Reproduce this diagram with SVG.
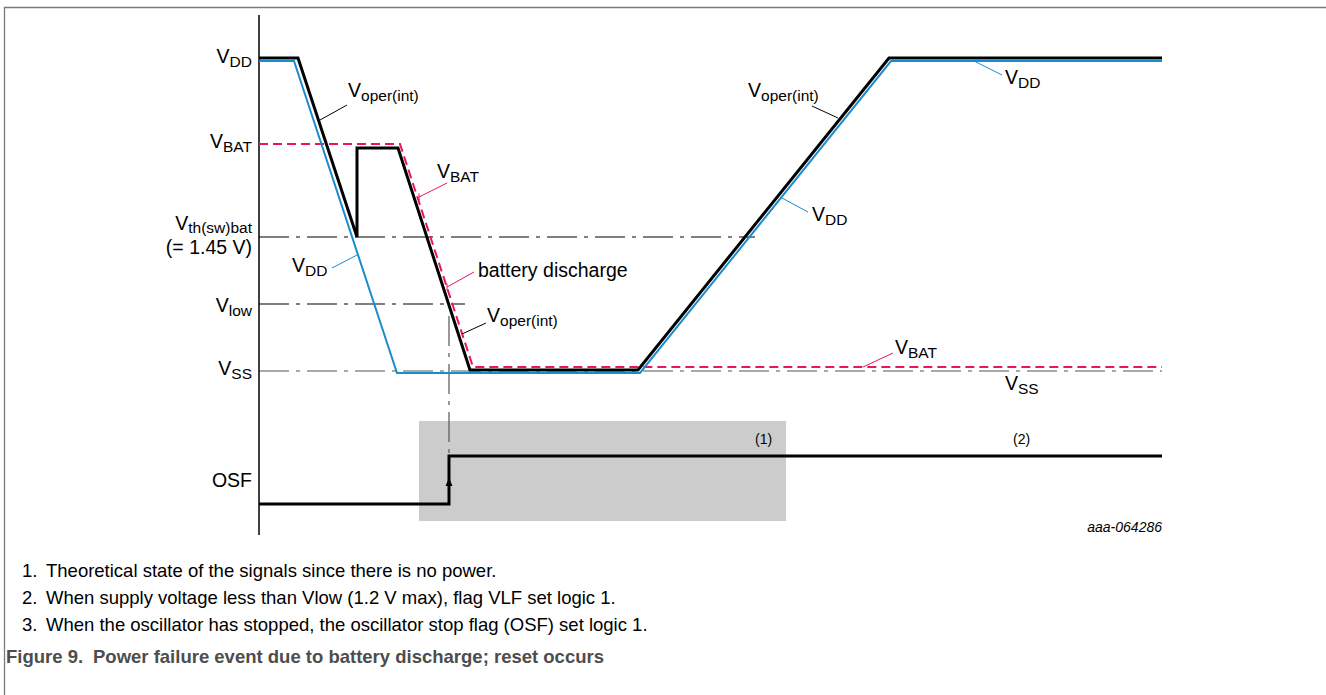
<svg xmlns="http://www.w3.org/2000/svg" width="1326" height="695" viewBox="0 0 1326 695">
  <style>
    text { font-family: "Liberation Sans", Arial, sans-serif; fill: #000; }
    .lbl { font-size: 19.5px; }
    .sub { font-size: 15.5px; }
    .note { font-size: 18.5px; fill: #000; }
    .cap { font-size: 18.5px; font-weight: bold; fill: #4d4d4d; }
    .small { font-size: 14px; }
    .code { font-size: 14px; font-style: italic; }
    .frame { stroke: #7a7a7a; stroke-width: 1.3; fill: none; }
    .axis { stroke: #000; stroke-width: 1.5; fill: none; }
    .vdd { stroke: #1b8bd0; stroke-width: 2; fill: none; stroke-linejoin: miter; }
    .oper { stroke: #000; stroke-width: 3; fill: none; stroke-linejoin: miter; }
    .vbat { stroke: #e8175d; stroke-width: 2; fill: none; stroke-dasharray: 9 5; }
    .ref { stroke: #000; stroke-width: 1.2; fill: none; stroke-dasharray: 30 7 4 7; }
    .refg { stroke: #555; stroke-width: 1.2; fill: none; stroke-dasharray: 30 7 4 7; }
    .lead { stroke: #000; stroke-width: 1; fill: none; }
    .leadb { stroke: #1b8bd0; stroke-width: 1; fill: none; }
    .leadr { stroke: #e8175d; stroke-width: 1; fill: none; }
  </style>

  <!-- outer frame (top and left rules) -->
  <path class="frame" d="M4.5,695 V7.5 H1326"/>

  <!-- shaded region: theoretical signal state -->
  <rect id="no-power-zone" x="419" y="421" width="367" height="100" fill="#cccccc"/>

  <!-- level reference lines -->
  <g id="reference-levels">
    <line class="ref" x1="259" y1="237" x2="755" y2="237"/>
    <line class="ref" x1="259" y1="304" x2="465" y2="304"/>
    <line class="refg" x1="259" y1="371" x2="1162" y2="371"/>
    <line class="refg" x1="449" y1="316" x2="449" y2="456"/>
  </g>

  <!-- vertical axis -->
  <line class="axis" x1="259" y1="15" x2="259" y2="535"/>

  <!-- signal traces -->
  <g id="traces">
    <polyline id="trace-vbat" class="vbat" points="259,144 400,144 473,367 1162,367"/>
    <polyline id="trace-vdd" class="vdd" points="259,61 294,61 397,373 640,373 891,61 1162,61"/>
    <polyline id="trace-voper" class="oper" points="259,58 298,58 357,237 357,148 398,148 470,370 638,370 889,58 1162,58"/>
    <polyline id="trace-osf" class="oper" points="259,504 449,504 449,456 1162,456"/>
    <path id="osf-arrow" d="M449,478 L445.5,486 L452.5,486 Z" fill="#000"/>
  </g>

  <!-- leader lines from labels to traces -->
  <g id="connectors">
    <line class="lead" x1="347" y1="105" x2="320" y2="120"/>
    <line class="leadr" x1="447" y1="183" x2="419" y2="197"/>
    <line class="leadr" x1="419" y1="193.5" x2="419" y2="200.5"/>
    <line class="leadb" x1="332" y1="268" x2="357" y2="255"/>
    <line class="leadr" x1="474" y1="272" x2="447" y2="287"/>
    <line class="leadr" x1="447" y1="283.5" x2="447" y2="290.5"/>
    <line class="lead" x1="486" y1="323" x2="462" y2="334"/>
    <line class="lead" x1="812" y1="106" x2="838" y2="118"/>
    <line class="leadb" x1="808" y1="212" x2="782" y2="198"/>
    <line class="leadb" x1="1002" y1="75" x2="974" y2="61"/>
    <line class="leadr" x1="893" y1="353" x2="863" y2="367"/>
  </g>

  <!-- axis labels -->
  <g id="axis-labels">
    <text id="lbl-vdd" class="lbl" x="252" y="63" text-anchor="end">V<tspan class="sub" dy="4">DD</tspan></text>
    <text id="lbl-vbat" class="lbl" x="252" y="148" text-anchor="end">V<tspan class="sub" dy="4">BAT</tspan></text>
    <text id="lbl-vth" class="lbl" x="252" y="230" text-anchor="end">V<tspan class="sub" dy="3">th(sw)bat</tspan></text>
    <text id="lbl-vth-val" class="lbl" x="252" y="254" text-anchor="end">(= 1.45 V)</text>
    <text id="lbl-vlow" class="lbl" x="252" y="312" text-anchor="end">V<tspan class="sub" dy="4">low</tspan></text>
    <text id="lbl-vss" class="lbl" x="252" y="375" text-anchor="end">V<tspan class="sub" dy="4">SS</tspan></text>
    <text id="lbl-osf" class="lbl" x="252" y="487" text-anchor="end">OSF</text>
  </g>

  <!-- trace labels -->
  <g id="trace-labels">
    <text class="lbl" x="348" y="97">V<tspan class="sub" dy="4">oper(int)</tspan></text>
    <text class="lbl" x="437" y="178">V<tspan class="sub" dy="4">BAT</tspan></text>
    <text class="lbl" x="292" y="272">V<tspan class="sub" dy="4">DD</tspan></text>
    <text class="lbl" x="478" y="277">battery discharge</text>
    <text class="lbl" x="487" y="322">V<tspan class="sub" dy="4">oper(int)</tspan></text>
    <text class="lbl" x="748" y="97">V<tspan class="sub" dy="4">oper(int)</tspan></text>
    <text class="lbl" x="812" y="221">V<tspan class="sub" dy="4">DD</tspan></text>
    <text class="lbl" x="1005" y="84">V<tspan class="sub" dy="4">DD</tspan></text>
    <text class="lbl" x="895" y="354">V<tspan class="sub" dy="4">BAT</tspan></text>
    <text class="lbl" x="1005" y="390">V<tspan class="sub" dy="4">SS</tspan></text>
    <text class="small" x="755" y="444">(1)</text>
    <text class="small" x="1013" y="444">(2)</text>
    <text class="code" x="1162" y="532" text-anchor="end">aaa-064286</text>
  </g>

  <!-- notes and caption -->
  <g id="notes">
    <text class="note" x="22" y="577">1.</text>
    <text class="note" x="46" y="577">Theoretical state of the signals since there is no power.</text>
    <text class="note" x="22" y="604">2.</text>
    <text class="note" x="46" y="604">When supply voltage less than Vlow (1.2 V max), flag VLF set logic 1.</text>
    <text class="note" x="22" y="631">3.</text>
    <text class="note" x="46" y="631">When the oscillator has stopped, the oscillator stop flag (OSF) set logic 1.</text>
    <text class="cap" x="6" y="663">Figure 9.<tspan x="93">Power failure event due to battery discharge; reset occurs</tspan></text>
  </g>
</svg>
